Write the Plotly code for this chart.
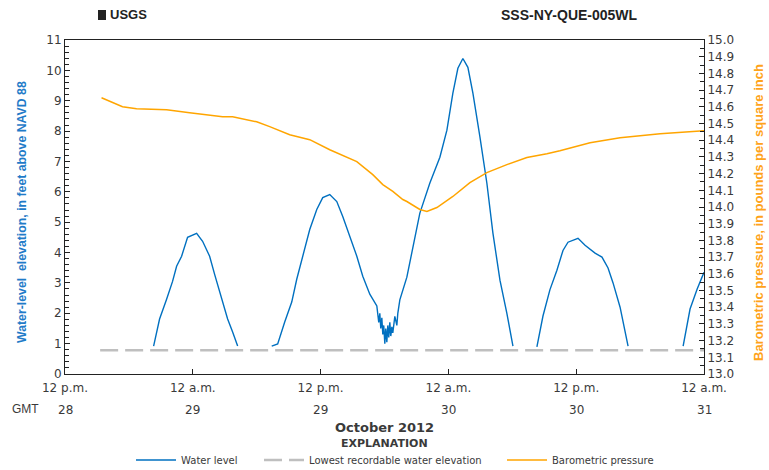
import plotly.graph_objects as go
from datetime import datetime, timedelta

# ---------------- data ----------------
BASE = datetime(2012, 10, 28, 12, 0)  # 12 p.m. GMT, Oct 28 2012

# water level: hours after BASE, feet above NAVD 88 (None = below recordable, gap)
wl_hours = [8.32, 8.88, 9.54, 10.10, 10.48, 10.95, 11.51, 12.36, 12.92, 13.58, 14.05, 14.71, 15.27, 15.74, 16.21, None,
            19.41, 19.97, 20.63, 21.29, 21.76, 22.32, 22.98, 23.64, 24.20, 24.86, 25.52, 26.08, 26.74, 27.40, 27.96,
            28.62, 29.28, 29.46, 29.56, 29.65, 29.75, 29.84, 29.93, 30.03, 30.12, 30.22, 30.31, 30.40, 30.50, 30.59,
            30.69, 30.78, 30.97, 31.16, 31.25, 31.44, 32.10, 32.66, 33.32, 34.26, 35.20, 35.86, 36.42, 36.89, 37.36,
            37.83, 38.30, 38.96, 39.61, 40.18, 40.84, 41.49, 42.06, None,
            44.31, 44.88, 45.53, 46.19, 46.76, 47.23, 48.17, 48.83, 49.77, 50.42, 50.99, 51.46, 52.12, 52.58, 52.87, None,
            58.04, 58.69, 59.35, 60.0]
wl_values = [0.92, 1.81, 2.46, 3.05, 3.55, 3.88, 4.50, 4.63, 4.37, 3.88, 3.28, 2.53, 1.81, 1.38, 0.92, None,
             0.92, 0.99, 1.71, 2.37, 3.12, 3.88, 4.76, 5.42, 5.81, 5.91, 5.68, 5.19, 4.53, 3.88, 3.22,
             2.63, 2.24, 1.70, 2.00, 1.50, 1.85, 1.30, 1.60, 1.00, 1.50, 1.05, 1.60, 1.20, 1.70, 1.25,
             1.55, 1.35, 1.90, 1.60, 2.00, 2.44, 3.19, 4.18, 5.30, 6.29, 7.14, 8.03, 9.25, 10.07, 10.39,
             10.10, 9.25, 7.81, 6.29, 4.64, 3.09, 2.00, 0.92, None,
             0.89, 1.91, 2.77, 3.42, 4.07, 4.34, 4.47, 4.24, 3.98, 3.85, 3.49, 3.00, 2.20, 1.45, 0.92, None,
             0.92, 2.14, 2.79, 3.35]

# barometric pressure: hours after BASE, psi
bp_hours = [3.43, 5.40, 6.72, 9.54, 11.70, 14.80, 15.74, 18.00, 19.22, 21.10, 22.98, 24.86, 27.40, 28.90,
            29.84, 30.78, 31.72, 32.10, 33.32, 33.98, 34.92, 36.42, 38.02, 39.61, 41.49, 43.37, 45.25,
            46.47, 49.30, 52.12, 55.88, 60.0]
bp_values = [14.654, 14.600, 14.588, 14.582, 14.564, 14.540, 14.540, 14.510, 14.481, 14.433, 14.403, 14.343,
             14.272, 14.194, 14.134, 14.093, 14.045, 14.033, 13.985, 13.973, 13.997, 14.063, 14.146, 14.206,
             14.254, 14.296, 14.319, 14.337, 14.385, 14.415, 14.439, 14.457]

# lowest recordable water elevation (ft)
low_hours = [3.3, 60.0]
low_values = [0.78, 0.78]

tick_hours = [0, 12, 24, 36, 48, 60]
tick_top = ["12 p.m.", "12 a.m.", "12 p.m.", "12 a.m.", "12 p.m.", "12 a.m."]
tick_day = ["28", "29", "29", "30", "30", "31"]


def to_time(hours):
    return [BASE + timedelta(hours=h) if h is not None else None for h in hours]


BLUE = "#0070C0"
ORANGE = "#FFA500"
GRAY = "#BFBFBF"
TXT = "#3a3a3a"
FONT = "DejaVu Sans"
NARROW = "Liberation Sans Narrow, Arial Narrow, Liberation Sans, sans-serif"

# plot area in pixels
L, R, T, B = 65, 704, 40, 374
W, H = R - L, B - T


def px(x):
    return (x - L) / W


def py(y):
    return (B - y) / H


fig = go.Figure()
fig.add_trace(go.Scatter(x=to_time(wl_hours), y=wl_values, mode="lines", name="Water level",
                         line=dict(color=BLUE, width=1.4), connectgaps=False, legend="legend"))
fig.add_trace(go.Scatter(x=to_time(low_hours), y=low_values, mode="lines",
                         name="Lowest recordable water elevation",
                         line=dict(color=GRAY, width=2.5, dash="18px,7px"), legend="legend2"))
fig.add_trace(go.Scatter(x=to_time(bp_hours), y=bp_values, mode="lines", name="Barometric pressure",
                         line=dict(color=ORANGE, width=1.5), yaxis="y2", legend="legend3"))

tickvals = to_time(tick_hours)
leg_common = dict(orientation="h", xanchor="left", y=py(460), yanchor="middle",
                  font=dict(family=FONT, size=10, color=TXT), itemwidth=40,
                  bgcolor="rgba(0,0,0,0)")

fig.update_layout(
    width=769, height=470,
    margin=dict(l=L, r=769 - R, t=T, b=470 - B, autoexpand=False),
    paper_bgcolor="white", plot_bgcolor="white",
    font=dict(family=FONT, size=12, color=TXT),
    showlegend=True,
    legend=dict(x=px(131), **leg_common),
    legend2=dict(x=px(259), **leg_common),
    legend3=dict(x=px(502), **leg_common),
    xaxis=dict(range=[tickvals[0], tickvals[-1]], tickvals=tickvals, ticktext=tick_top,
               ticks="inside", ticklen=5, tickcolor="#222", showline=True, linecolor="#222",
               linewidth=1, mirror=True, showgrid=False, zeroline=False, ticklabelstandoff=3,
               tickfont=dict(family=FONT, size=12, color=TXT)),
    yaxis=dict(range=[0, 11], dtick=1, ticks="inside", ticklen=5, tickcolor="#222",
               showline=True, linecolor="#222", linewidth=1, showgrid=False, zeroline=False,
               minor=dict(dtick=0.2, ticks="inside", ticklen=4, tickcolor="#222"),
               tickfont=dict(family=FONT, size=12, color=TXT)),
    yaxis2=dict(range=[13, 15], dtick=0.1, tickformat=".1f", overlaying="y", side="right",
                ticks="inside", ticklen=5, tickcolor="#222", showline=True, linecolor="#222",
                linewidth=1, showgrid=False, zeroline=False,
                minor=dict(dtick=0.05, ticks="inside", ticklen=4, tickcolor="#222"),
                tickfont=dict(family=FONT, size=12, color=TXT)),
)

ann = []
for tv, d in zip(tickvals, tick_day):
    ann.append(dict(x=tv, y=py(410), xref="x", yref="paper", text=d, showarrow=False,
                    yanchor="middle", font=dict(family=FONT, size=12, color=TXT)))
ann.append(dict(x=px(25), y=py(409), xref="paper", yref="paper", text="GMT", showarrow=False,
                xanchor="center", yanchor="middle", font=dict(family=NARROW, size=12, color=TXT)))
ann.append(dict(x=0.5, y=py(427), xref="paper", yref="paper", text="<b>October 2012</b>",
                showarrow=False, yanchor="middle", font=dict(family=FONT, size=13, color=TXT)))
ann.append(dict(x=0.5, y=py(443), xref="paper", yref="paper", text="<b>EXPLANATION</b>",
                showarrow=False, yanchor="middle", font=dict(family=FONT, size=11, color=TXT)))
ann.append(dict(x=px(22), y=py(212), xref="paper", yref="paper",
                text="<b>Water-level  elevation, in feet above NAVD 88</b>", textangle=-90,
                showarrow=False, xanchor="center", yanchor="middle",
                font=dict(family=NARROW, size=12.3, color="#1F7BC8")))
ann.append(dict(x=px(758), y=py(213), xref="paper", yref="paper",
                text="<b>Barometric pressure, in pounds per square inch</b>", textangle=-90,
                showarrow=False, xanchor="center", yanchor="middle",
                font=dict(family=NARROW, size=13, color="#FFA31A")))
ann.append(dict(x=px(108), y=py(15), xref="paper", yref="paper",
                text="<b>USGS</b>", showarrow=False, xanchor="left", yanchor="middle",
                font=dict(family=NARROW, size=13, color="#222")))
ann.append(dict(x=px(640), y=py(15), xref="paper", yref="paper",
                text="<b>SSS-NY-QUE-005WL</b>", showarrow=False, xanchor="right", yanchor="middle",
                font=dict(family=NARROW, size=14, color="#222")))
fig.update_layout(annotations=ann)

# small USGS logo block
fig.add_shape(type="rect", xref="paper", yref="paper",
              x0=px(98), x1=px(106), y0=py(20), y1=py(10),
              fillcolor="#222", line=dict(width=0))

fig.write_html("out.html")
